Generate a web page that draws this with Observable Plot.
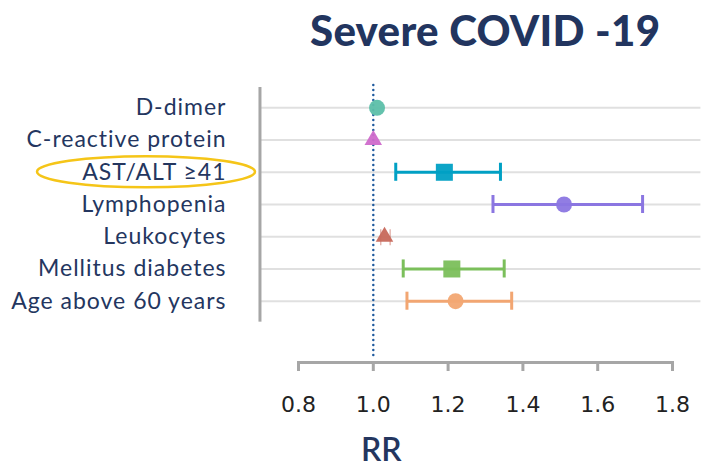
<!DOCTYPE html>
<html>
<head>
<meta charset="utf-8">
<script src="https://cdn.jsdelivr.net/npm/d3@7"></script>
<script src="https://cdn.jsdelivr.net/npm/@observablehq/plot@0.6"></script>
<style>
  html, body { margin: 0; padding: 0; background: #fff; }
  #wrap { width: 706px; height: 466px; overflow: hidden; }
  #title { height: 70px; box-sizing: border-box; padding-top: 9px; padding-left: 310px;
           font-family: Lato, "Noto Sans", sans-serif; font-weight: 900; font-size: 42px;
           letter-spacing: 0.3px; line-height: 1; color: #22355f; white-space: nowrap; }
  svg { display: block; }
  g[aria-label="y-axis tick label"] text { letter-spacing: 1px; }
</style>
</head>
<body>
<div id="wrap">
  <div id="title">Severe COVID -19</div>
  <div id="chart"></div>
</div>
<script>
const categories = ["D-dimer", "C-reactive protein", "AST/ALT ≥41", "Lymphopenia", "Leukocytes", "Mellitus diabetes", "Age above 60 years"];
const rr = [1.01, 1.00, 1.19, 1.51, 1.03, 1.21, 1.22];
const lower = [null, null, 1.06, 1.32, 1.02, 1.08, 1.09];
const upper = [null, null, 1.34, 1.72, 1.045, 1.35, 1.37];
const shapes = ["circle", "triangle", "square", "circle", "triangle", "square", "circle"];
const colors = ["#5cbfa9", "#cf6acb", "#00a0c4", "#8b76e1", "#c7685b", "#7bbf5b", "#f2a672"];
const xTicks = [0.8, 1.0, 1.2, 1.4, 1.6, 1.8];
const refValue = 1.0;
const xLabel = "RR";

const rows = categories.map((c, i) => ({i, label: c, rr: rr[i], lo: lower[i], hi: upper[i], shape: shapes[i], color: colors[i]}));
const ci = rows.filter(d => d.lo != null);
// very narrow intervals are drawn with hairline whiskers, as in the source
const wide = ci.filter(d => d.hi - d.lo > 0.05);
const narrow = ci.filter(d => d.hi - d.lo <= 0.05);
const navy = "#24365f";
const gray = "#a6a6a6";
const sizeOf = {circle: 8, square: 9.6, triangle: 6.5};

const W = 706, H = 396, ML = 298, MR = 34, MB = 104;

const plot = Plot.plot({
  width: W, height: H,
  marginLeft: ML, marginRight: MR, marginTop: 10, marginBottom: MB,
  style: {fontFamily: "Lato, 'Noto Sans', sans-serif", background: "white", overflow: "visible"},
  x: {domain: [0.8, 1.8]},
  y: {domain: [0, 6], range: [37.3, 230.7]},
  marks: [
    Plot.ruleY(rows, {y: "i", x1: 0.697, x2: 1.876, stroke: "#e0e0e0", strokeWidth: 2}),
    Plot.ruleX([0.697], {y1: -0.63, y2: 6.65, stroke: gray, strokeWidth: 3}),
    Plot.ruleX([refValue], {y1: -0.69, y2: 7.69, stroke: "#1f5a9e", strokeWidth: 2.5, strokeDasharray: "0 5", strokeLinecap: "round"}),
    Plot.frame({anchor: "bottom", stroke: gray, strokeWidth: 3}),
    Plot.axisX({ticks: xTicks, tickFormat: d3.format(".1f"), tickSize: 9, tickPadding: 25, fontSize: 22,
                fontFamily: "'DejaVu Sans', Verdana, sans-serif", stroke: gray, strokeWidth: 3, fill: "#222", label: null}),
    Plot.axisY({ticks: d3.range(categories.length), tickFormat: i => categories[i], tickSize: 0, tickPadding: 72,
                fontSize: 23, fill: navy, label: null}),
    Plot.ruleY(wide, {y: "i", x1: "lo", x2: "hi", stroke: "color", strokeWidth: 3}),
    Plot.ruleX(wide, {x: "lo", y1: d => d.i - 0.28, y2: d => d.i + 0.28, stroke: "color", strokeWidth: 3}),
    Plot.ruleX(wide, {x: "hi", y1: d => d.i - 0.28, y2: d => d.i + 0.28, stroke: "color", strokeWidth: 3}),
    Plot.ruleX(narrow, {x: "lo", y1: d => d.i - 0.22, y2: d => d.i + 0.28, stroke: "color", strokeWidth: 1.2, strokeOpacity: 0.6}),
    Plot.ruleX(narrow, {x: "hi", y1: d => d.i - 0.22, y2: d => d.i + 0.28, stroke: "color", strokeWidth: 1.2, strokeOpacity: 0.6}),
    ...["circle", "square", "triangle"].map(s =>
      Plot.dot(rows.filter(d => d.shape === s), {x: "rr", y: "i", symbol: "shape", fill: "color", r: sizeOf[s], stroke: null, fillOpacity: 0.95})
    ),
    Plot.text([xLabel], {x: 1.0215, frameAnchor: "bottom", dy: 98, lineAnchor: "bottom", fontSize: 32, fontWeight: 600, fill: navy})
  ]
});
document.getElementById("chart").appendChild(plot);

// highlight ellipse around the AST/ALT label
const ys = plot.scale("y");
const svg = d3.select(plot);
svg.append("ellipse")
  .attr("cx", ML - 73 - 79).attr("cy", ys.apply(2))
  .attr("rx", 109).attr("ry", 15.5)
  .attr("fill", "none").attr("stroke", "#f5c518").attr("stroke-width", 2.5);
</script>
</body>
</html>
